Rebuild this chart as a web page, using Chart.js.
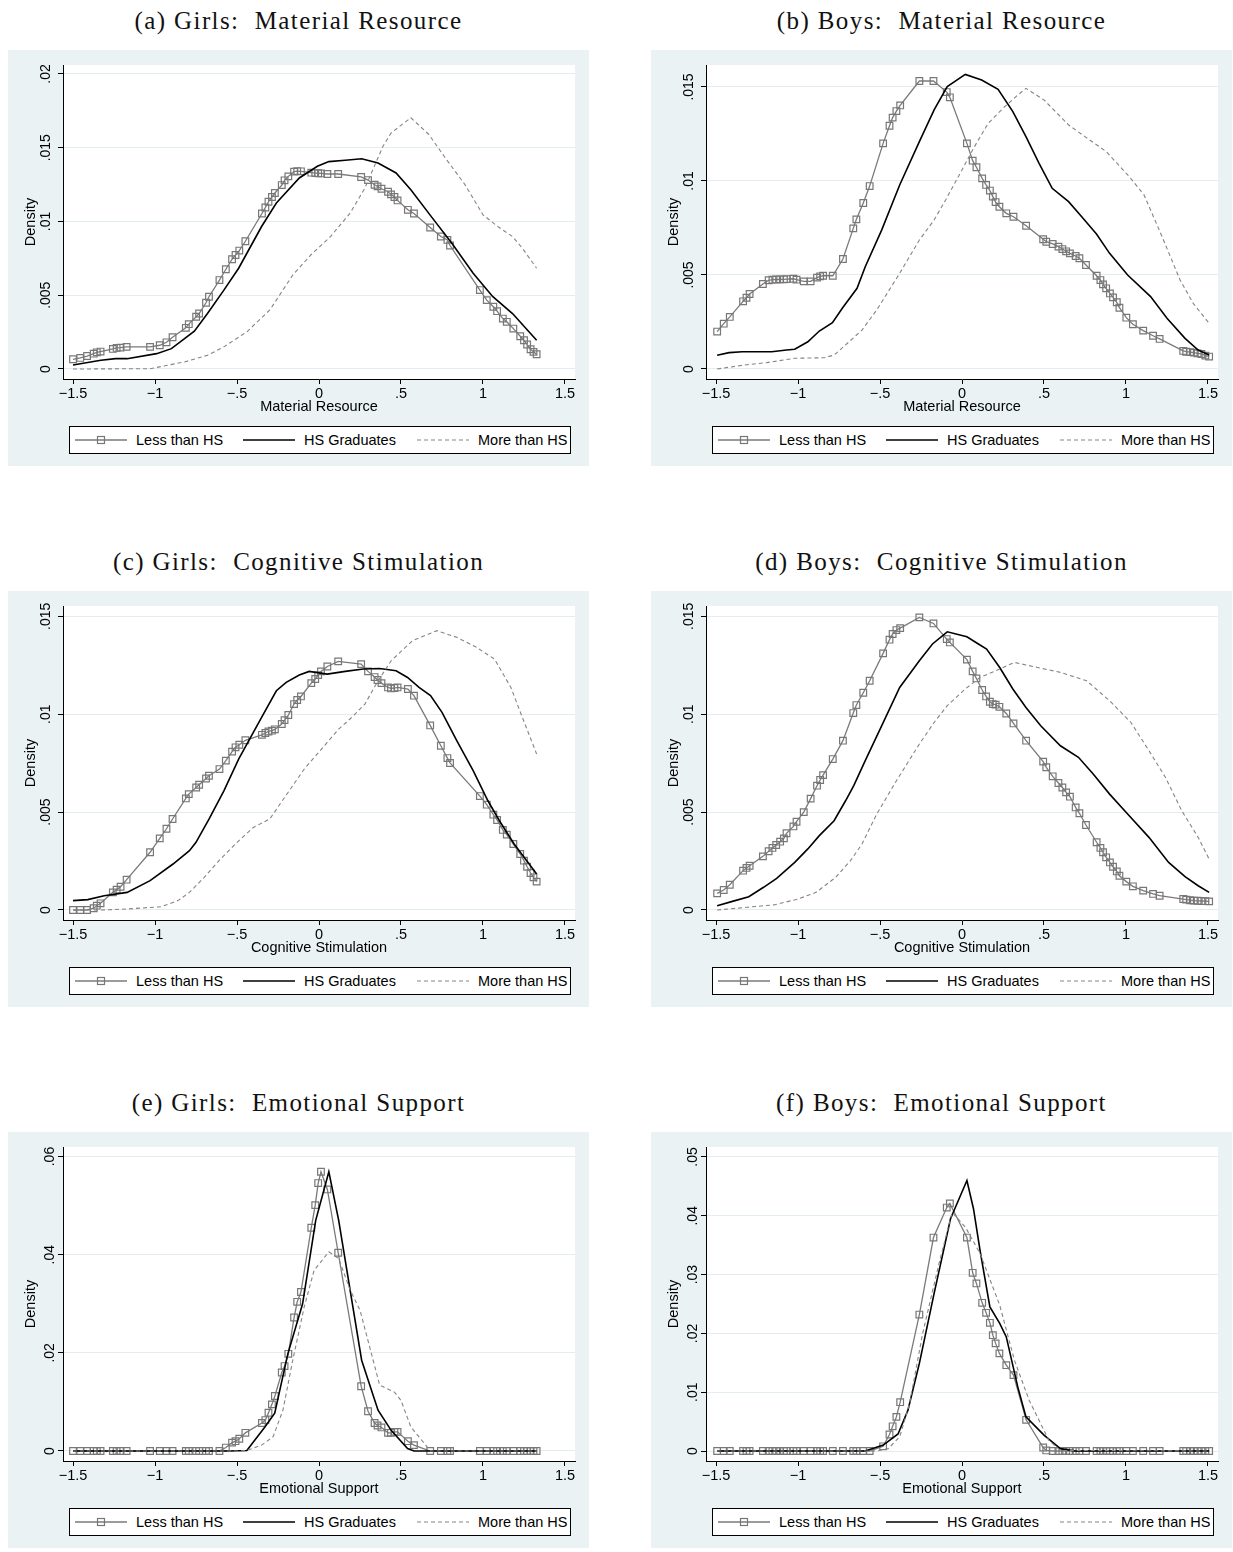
<!DOCTYPE html>
<html lang="en">
<head>
<meta charset="UTF-8">
<title>Kernel densities by parental education</title>
<script src="https://cdn.jsdelivr.net/npm/chart.js"></script>
<style>
  body { margin: 0; background: #fff; width: 1233px; height: 1552px; position: relative; overflow: hidden; }
  .title { position: absolute; width: 581px; text-align: center; font-family: "Liberation Serif", serif; font-size: 25px; line-height: 30px; color: #111; letter-spacing: 1.4px; white-space: pre; }
  .panel { position: absolute; width: 581px; height: 416px; background: #eaf2f3; }
  .panel canvas { position: absolute; left: 0; top: 0; }
  .legend { position: absolute; left: 61px; top: 376px; width: 500px; height: 26px; background: #fff; border: 1px solid #000;
            font-family: "Liberation Sans", Arial, sans-serif; font-size: 14.5px; color: #000; }
  .legend .item { position: absolute; top: 0; height: 26px; display: flex; align-items: center; white-space: nowrap; }
  .legend svg { margin-right: 9px; }
</style>
</head>
<body>
<script>
// evaluation points of the "Less than HS" estimates
const girlsGrid = [-1.5, -1.456, -1.414, -1.374, -1.355, -1.332, -1.257, -1.234, -1.21, -1.173, -1.03, -0.971, -0.93, -0.893, -0.812, -0.794, -0.749, -0.731, -0.689, -0.671, -0.607, -0.568, -0.53, -0.509, -0.486, -0.449, -0.348, -0.327, -0.308, -0.287, -0.269, -0.227, -0.21, -0.187, -0.152, -0.133, -0.11, -0.047, -0.023, -0.005, 0.012, 0.051, 0.117, 0.257, 0.299, 0.339, 0.357, 0.381, 0.421, 0.439, 0.46, 0.479, 0.542, 0.579, 0.678, 0.743, 0.783, 0.799, 0.981, 1.023, 1.063, 1.086, 1.121, 1.145, 1.185, 1.227, 1.25, 1.269, 1.29, 1.308, 1.327];
const boysGrid = [-1.493, -1.453, -1.416, -1.335, -1.314, -1.295, -1.214, -1.179, -1.156, -1.133, -1.109, -1.086, -1.07, -1.028, -1.009, -0.965, -0.923, -0.884, -0.865, -0.847, -0.788, -0.726, -0.663, -0.644, -0.602, -0.563, -0.481, -0.442, -0.423, -0.4, -0.377, -0.26, -0.174, -0.093, -0.074, 0.03, 0.065, 0.088, 0.123, 0.147, 0.17, 0.188, 0.205, 0.228, 0.27, 0.314, 0.391, 0.495, 0.514, 0.553, 0.588, 0.612, 0.635, 0.658, 0.693, 0.716, 0.756, 0.821, 0.844, 0.86, 0.879, 0.902, 0.921, 0.944, 0.96, 1.002, 1.042, 1.105, 1.165, 1.205, 1.349, 1.367, 1.391, 1.414, 1.437, 1.46, 1.484, 1.507];

// (a) girls, material resource
const girlsMatLess = [0.00066, 0.00075, 0.00088, 0.00104, 0.00113, 0.00118, 0.00136, 0.00143, 0.00145, 0.0015, 0.0015, 0.00161, 0.00181, 0.00215, 0.00279, 0.00304, 0.00354, 0.00376, 0.00449, 0.0049, 0.00603, 0.00676, 0.00744, 0.00773, 0.00803, 0.00866, 0.01054, 0.01095, 0.01134, 0.01166, 0.01193, 0.01247, 0.01279, 0.01306, 0.01338, 0.01342, 0.0134, 0.01331, 0.01328, 0.01327, 0.01326, 0.01322, 0.01322, 0.01302, 0.01281, 0.01249, 0.01238, 0.01222, 0.01202, 0.01184, 0.01166, 0.01143, 0.01079, 0.01054, 0.00959, 0.00898, 0.00875, 0.00837, 0.00535, 0.00467, 0.00422, 0.00392, 0.00342, 0.0032, 0.00274, 0.00222, 0.00195, 0.00166, 0.00134, 0.00116, 0.001];
const girlsMatGradX = [-1.5, -1.33, -1.24, -1.17, -0.99, -0.9, -0.76, -0.68, -0.58, -0.49, -0.35, -0.26, -0.12, -0.01, 0.06, 0.16, 0.26, 0.36, 0.47, 0.56, 0.7, 0.81, 0.94, 1.06, 1.18, 1.327];
const girlsMatGradY = [0.00027, 0.00059, 0.0007, 0.0007, 0.00104, 0.00138, 0.00256, 0.00376, 0.00535, 0.00683, 0.00966, 0.01125, 0.01295, 0.01374, 0.01406, 0.01415, 0.01425, 0.01397, 0.01329, 0.01215, 0.01011, 0.00853, 0.00649, 0.0049, 0.00376, 0.00195];
const girlsMatMoreX = [-1.5, -1.03, -0.82, -0.68, -0.58, -0.44, -0.3, -0.16, -0.05, 0.07, 0.19, 0.28, 0.39, 0.44, 0.56, 0.67, 0.77, 0.89, 1.0, 1.09, 1.18, 1.24, 1.327];
const girlsMatMoreY = [0, 0.00002, 0.00048, 0.00093, 0.0015, 0.00252, 0.004, 0.00637, 0.00773, 0.00898, 0.01057, 0.01227, 0.0151, 0.01601, 0.01703, 0.0159, 0.01431, 0.0125, 0.01045, 0.00966, 0.00898, 0.00819, 0.00683];

// (b) boys, material resource
const boysMatLess = [0.00199, 0.00241, 0.00277, 0.0036, 0.00379, 0.00399, 0.00452, 0.00472, 0.00475, 0.00476, 0.00477, 0.00477, 0.00478, 0.0048, 0.00475, 0.00466, 0.00466, 0.00486, 0.00493, 0.00496, 0.00496, 0.00585, 0.00748, 0.00796, 0.00883, 0.00973, 0.012, 0.01294, 0.01337, 0.01372, 0.01402, 0.01532, 0.01532, 0.01473, 0.01445, 0.012, 0.01108, 0.01073, 0.01014, 0.00979, 0.00949, 0.00917, 0.00888, 0.00863, 0.00828, 0.0081, 0.00762, 0.0069, 0.00677, 0.00665, 0.00651, 0.00638, 0.00626, 0.00615, 0.00601, 0.00589, 0.00553, 0.00496, 0.00473, 0.0045, 0.00429, 0.00402, 0.00381, 0.00355, 0.00326, 0.00273, 0.00238, 0.00204, 0.00177, 0.0016, 0.00096, 0.00092, 0.0009, 0.00087, 0.00083, 0.0008, 0.00071, 0.00066];
const boysMatGradX = [-1.493, -1.42, -1.34, -1.16, -1.07, -1.02, -0.94, -0.87, -0.79, -0.73, -0.64, -0.59, -0.49, -0.38, -0.26, -0.17, -0.09, 0.02, 0.12, 0.22, 0.31, 0.39, 0.47, 0.55, 0.65, 0.73, 0.82, 0.9, 1.01, 1.15, 1.25, 1.36, 1.44, 1.507];
const boysMatGradY = [0.00073, 0.00087, 0.00092, 0.00092, 0.00101, 0.00105, 0.00145, 0.00202, 0.00246, 0.00323, 0.00429, 0.00544, 0.00739, 0.00979, 0.01209, 0.01378, 0.01502, 0.01567, 0.01537, 0.01488, 0.01369, 0.01236, 0.01094, 0.00961, 0.0089, 0.0081, 0.00718, 0.00615, 0.005, 0.00385, 0.0027, 0.00163, 0.00101, 0.00074];
const boysMatMoreX = [-1.493, -1.33, -1.19, -1.02, -0.84, -0.78, -0.71, -0.61, -0.52, -0.38, -0.26, -0.17, -0.1, 0.0, 0.07, 0.16, 0.25, 0.34, 0.39, 0.5, 0.65, 0.75, 0.88, 1.02, 1.11, 1.22, 1.33, 1.41, 1.507];
const boysMatMoreY = [0, 0.00021, 0.00034, 0.00057, 0.0006, 0.00074, 0.00128, 0.00207, 0.00314, 0.00509, 0.00686, 0.00793, 0.00899, 0.01059, 0.01174, 0.01307, 0.01387, 0.01457, 0.01493, 0.01431, 0.01298, 0.01236, 0.01156, 0.01023, 0.00926, 0.00704, 0.00473, 0.00349, 0.00243];

// (c) girls, cognitive stimulation
const girlsCogLess = [0, 0, 0, 0.00009, 0.00022, 0.00034, 0.0009, 0.00104, 0.00119, 0.00155, 0.00295, 0.00366, 0.00415, 0.00465, 0.0057, 0.00592, 0.00626, 0.0064, 0.00672, 0.00686, 0.0072, 0.00763, 0.00809, 0.00831, 0.00844, 0.00867, 0.00895, 0.00904, 0.00912, 0.00916, 0.00923, 0.0095, 0.0097, 0.00996, 0.01052, 0.01073, 0.01091, 0.01159, 0.0118, 0.012, 0.01219, 0.01244, 0.0127, 0.01256, 0.01219, 0.0119, 0.01175, 0.01159, 0.01137, 0.01132, 0.01134, 0.01137, 0.01129, 0.01095, 0.00943, 0.00839, 0.00776, 0.00751, 0.00582, 0.00538, 0.00487, 0.0046, 0.00409, 0.00385, 0.00337, 0.00286, 0.00252, 0.00221, 0.00189, 0.00167, 0.00145];
const girlsCogGradX = [-1.5, -1.41, -1.31, -1.17, -1.03, -0.89, -0.79, -0.75, -0.67, -0.58, -0.49, -0.35, -0.26, -0.2, -0.12, -0.06, 0.05, 0.16, 0.27, 0.37, 0.47, 0.54, 0.61, 0.68, 0.75, 0.84, 0.94, 1.03, 1.1, 1.19, 1.327];
const girlsCogGradY = [0.00048, 0.00053, 0.00073, 0.0009, 0.0015, 0.00235, 0.00303, 0.00346, 0.00465, 0.00609, 0.00771, 0.00984, 0.0112, 0.01163, 0.012, 0.01219, 0.01205, 0.01219, 0.01231, 0.01234, 0.01222, 0.01188, 0.01137, 0.01095, 0.0101, 0.00865, 0.00712, 0.00558, 0.00456, 0.00337, 0.00184];
const girlsCogMoreX = [-1.5, -1.33, -1.17, -0.96, -0.86, -0.79, -0.7, -0.61, -0.51, -0.4, -0.3, -0.21, -0.09, 0.05, 0.12, 0.2, 0.28, 0.36, 0.44, 0.57, 0.72, 0.84, 0.96, 1.07, 1.17, 1.24, 1.327];
const girlsCogMoreY = [0, 0, 0.00005, 0.00017, 0.00048, 0.0009, 0.00167, 0.00252, 0.00337, 0.00422, 0.00465, 0.00575, 0.0072, 0.00856, 0.00924, 0.00984, 0.01052, 0.01171, 0.01273, 0.01376, 0.01427, 0.01393, 0.01342, 0.01282, 0.01137, 0.00984, 0.00797];

// (d) boys, cognitive stimulation
const boysCogLess = [0.00085, 0.00102, 0.00129, 0.00201, 0.00215, 0.00226, 0.00274, 0.003, 0.00317, 0.00332, 0.00349, 0.00366, 0.00392, 0.00427, 0.00451, 0.005, 0.00569, 0.00635, 0.00664, 0.00689, 0.00771, 0.00865, 0.01006, 0.01047, 0.0111, 0.01171, 0.01311, 0.01381, 0.0141, 0.0143, 0.0144, 0.01495, 0.01464, 0.01384, 0.01367, 0.01279, 0.01219, 0.01183, 0.01124, 0.01091, 0.01064, 0.01052, 0.01049, 0.01038, 0.01004, 0.00953, 0.00865, 0.00758, 0.00729, 0.00683, 0.00649, 0.00626, 0.00601, 0.00579, 0.00524, 0.00494, 0.00434, 0.00346, 0.00317, 0.00295, 0.00269, 0.00243, 0.00221, 0.00197, 0.00175, 0.00145, 0.00121, 0.00099, 0.00082, 0.00073, 0.00056, 0.00053, 0.0005, 0.00048, 0.00047, 0.00046, 0.00045, 0.00044];
const boysCogGradX = [-1.493, -1.4, -1.3, -1.21, -1.13, -1.02, -0.94, -0.87, -0.78, -0.71, -0.66, -0.59, -0.49, -0.38, -0.26, -0.18, -0.09, 0.03, 0.1, 0.15, 0.23, 0.31, 0.39, 0.48, 0.6, 0.71, 0.8, 0.9, 1.01, 1.14, 1.26, 1.36, 1.44, 1.507];
const boysCogGradY = [0.00022, 0.00044, 0.00068, 0.00116, 0.00162, 0.00243, 0.00312, 0.0038, 0.00456, 0.00558, 0.00635, 0.00763, 0.00941, 0.01137, 0.01273, 0.01359, 0.01421, 0.01396, 0.01359, 0.01333, 0.01239, 0.01129, 0.01035, 0.00941, 0.00839, 0.0078, 0.00695, 0.00592, 0.0049, 0.00371, 0.00243, 0.0017, 0.00124, 0.0009];
const boysCogMoreX = [-1.493, -1.31, -1.14, -1.0, -0.89, -0.77, -0.68, -0.61, -0.52, -0.4, -0.26, -0.17, -0.09, 0.02, 0.11, 0.23, 0.32, 0.46, 0.6, 0.76, 0.9, 1.03, 1.14, 1.24, 1.34, 1.44, 1.507];
const boysCogMoreY = [0, 0.00014, 0.00027, 0.00056, 0.0009, 0.00167, 0.00252, 0.00337, 0.0049, 0.0066, 0.00848, 0.00958, 0.01044, 0.01129, 0.01188, 0.01231, 0.01265, 0.01239, 0.01214, 0.01171, 0.01069, 0.00958, 0.00814, 0.00678, 0.00507, 0.00371, 0.0026];

// (e) girls, emotional support
const girlsEmoLess = [0, 0, 0, 0, 0, 0, 0, 0, 0, 0, 0, 0, 0, 0, 0, 0, 0, 0, 0, 0, 0, 0.0007, 0.0017, 0.002, 0.0025, 0.0037, 0.0057, 0.0063, 0.0078, 0.0095, 0.0112, 0.016, 0.0173, 0.0198, 0.0272, 0.0304, 0.0324, 0.0455, 0.0501, 0.0546, 0.0569, 0.0533, 0.0404, 0.0132, 0.0081, 0.0057, 0.0052, 0.0048, 0.0037, 0.0037, 0.0039, 0.0039, 0.002, 0.0012, 0, 0, 0, 0, 0, 0, 0, 0, 0, 0, 0, 0, 0, 0, 0, 0, 0];
const girlsEmoGradX = [-1.5, -0.54, -0.44, -0.33, -0.27, -0.19, -0.1, -0.02, 0.06, 0.12, 0.26, 0.36, 0.44, 0.54, 0.58, 1.327];
const girlsEmoGradY = [0, 0, 0.0001, 0.0049, 0.0077, 0.0198, 0.03, 0.047, 0.0569, 0.047, 0.0185, 0.0083, 0.0042, 0.0005, 0, 0];
const girlsEmoMoreX = [-1.5, -0.49, -0.44, -0.35, -0.28, -0.22, -0.16, -0.09, -0.03, 0.06, 0.12, 0.19, 0.25, 0.32, 0.37, 0.46, 0.5, 0.56, 0.68, 1.327];
const girlsEmoMoreY = [0, 0, 0.0001, 0.0012, 0.0029, 0.0083, 0.0185, 0.0294, 0.0368, 0.0406, 0.0392, 0.0328, 0.0287, 0.0198, 0.0134, 0.012, 0.0103, 0.0049, 0, 0];

// (f) boys, emotional support
const boysEmoLess = [0, 0, 0, 0, 0, 0, 0, 0, 0, 0, 0, 0, 0, 0, 0, 0, 0, 0, 0, 0, 0, 0, 0, 0, 0, 0, 0.0008, 0.0028, 0.0042, 0.0058, 0.0083, 0.0232, 0.0363, 0.0414, 0.0421, 0.0363, 0.0303, 0.0285, 0.0252, 0.0235, 0.0218, 0.0197, 0.0183, 0.0166, 0.0146, 0.0129, 0.0053, 0.0006, 0.0001, 0, 0, 0, 0, 0, 0, 0, 0, 0, 0, 0, 0, 0, 0, 0, 0, 0, 0, 0, 0, 0, 0, 0, 0, 0, 0, 0, 0, 0];
const boysEmoGradX = [-1.493, -0.59, -0.48, -0.39, -0.33, -0.26, -0.17, -0.07, 0.03, 0.07, 0.11, 0.17, 0.23, 0.27, 0.34, 0.39, 0.5, 0.6, 0.69, 1.507];
const boysEmoGradY = [0, 0, 0.001, 0.0029, 0.0069, 0.0149, 0.0268, 0.0395, 0.046, 0.0412, 0.0341, 0.0245, 0.0217, 0.0194, 0.0109, 0.0058, 0.0027, 0.0004, 0, 0];
const boysEmoMoreX = [-1.493, -0.52, -0.45, -0.38, -0.32, -0.24, -0.14, -0.06, 0.02, 0.11, 0.23, 0.32, 0.41, 0.53, 0.6, 1.507];
const boysEmoMoreY = [0, 0, 0.0004, 0.0024, 0.008, 0.02, 0.0319, 0.0406, 0.0381, 0.0336, 0.0248, 0.0154, 0.0086, 0.0018, 0.0001, 0];

const seriesNames = ['Less than HS', 'HS Graduates', 'More than HS'];
const xTicks = [-1.5, -1, -0.5, 0, 0.5, 1, 1.5];
const yTicksMat = [0, 0.005, 0.01, 0.015, 0.02];
const yTicksCog = [0, 0.005, 0.01, 0.015];
const yTicksEmoGirls = [0, 0.02, 0.04, 0.06];
const yTicksEmoBoys = [0, 0.01, 0.02, 0.03, 0.04, 0.05];

const panels = [
  { title: '(a) Girls:  Material Resource', xTitle: 'Material Resource', left: 8, top: 50,
    yMin: -0.000678, yMax: 0.02061, yTicks: yTicksMat,
    less: [girlsGrid, girlsMatLess], grad: [girlsMatGradX, girlsMatGradY], more: [girlsMatMoreX, girlsMatMoreY] },
  { title: '(b) Boys:  Material Resource', xTitle: 'Material Resource', left: 651, top: 50,
    yMin: -0.000532, yMax: 0.01617, yTicks: yTicksCog,
    less: [boysGrid, boysMatLess], grad: [boysMatGradX, boysMatGradY], more: [boysMatMoreX, boysMatMoreY] },
  { title: '(c) Girls:  Cognitive Stimulation', xTitle: 'Cognitive Stimulation', left: 8, top: 591,
    yMin: -0.000511, yMax: 0.01553, yTicks: yTicksCog,
    less: [girlsGrid, girlsCogLess], grad: [girlsCogGradX, girlsCogGradY], more: [girlsCogMoreX, girlsCogMoreY] },
  { title: '(d) Boys:  Cognitive Stimulation', xTitle: 'Cognitive Stimulation', left: 651, top: 591,
    yMin: -0.000511, yMax: 0.01553, yTicks: yTicksCog,
    less: [boysGrid, boysCogLess], grad: [boysCogGradX, boysCogGradY], more: [boysCogMoreX, boysCogMoreY] },
  { title: '(e) Girls:  Emotional Support', xTitle: 'Emotional Support', left: 8, top: 1132,
    yMin: -0.00204, yMax: 0.06195, yTicks: yTicksEmoGirls,
    less: [girlsGrid, girlsEmoLess], grad: [girlsEmoGradX, girlsEmoGradY], more: [girlsEmoMoreX, girlsEmoMoreY] },
  { title: '(f) Boys:  Emotional Support', xTitle: 'Emotional Support', left: 651, top: 1132,
    yMin: -0.0017, yMax: 0.0517, yTicks: yTicksEmoBoys,
    less: [boysGrid, boysEmoLess], grad: [boysEmoGradX, boysEmoGradY], more: [boysEmoMoreX, boysEmoMoreY] }
];

const SANS = '"Liberation Sans", Arial, sans-serif';
Chart.defaults.font.family = SANS;
Chart.defaults.color = '#000';

// Stata-style numbers: no leading zero, real minus sign
const fmt = v => {
  if (v === 0) return '0';
  return (v < 0 ? '\u2212' : '') + String(Math.abs(v)).replace(/^0\./, '.');
};

const pts = (xs, ys) => xs.map((x, i) => ({ x, y: ys[i] }));

// white plot region inside the tinted graph region
const plotBg = {
  id: 'plotBg',
  beforeDraw(chart) {
    const { ctx, chartArea: a } = chart;
    ctx.save();
    ctx.fillStyle = '#fff';
    ctx.fillRect(a.left, a.top, a.right - a.left, a.bottom - a.top);
    ctx.restore();
  }
};

function buildLegend(el, chart) {
  const offsets = [5, 173, 347];
  chart.data.datasets.forEach((ds, i) => {
    const item = document.createElement('div');
    item.className = 'item';
    item.style.left = offsets[i] + 'px';
    const dash = ds.borderDash ? ` stroke-dasharray="${ds.borderDash.join(',')}"` : '';
    const mark = ds.pointRadius > 0
      ? `<rect x="22.5" y="3.5" width="7" height="7" fill="none" stroke="${ds.pointBorderColor}" stroke-width="1.2"/>` : '';
    item.innerHTML = `<svg width="52" height="14"><line x1="0" y1="7" x2="52" y2="7" stroke="${ds.borderColor}" stroke-width="${ds.borderWidth}"${dash}/>${mark}</svg><span>${ds.label}</span>`;
    el.appendChild(item);
  });
}

panels.forEach(p => {
  const title = document.createElement('div');
  title.className = 'title';
  title.style.left = p.left + 'px';
  title.style.top = (p.top - 44) + 'px';
  title.textContent = p.title;
  document.body.appendChild(title);

  const box = document.createElement('div');
  box.className = 'panel';
  box.style.left = p.left + 'px';
  box.style.top = p.top + 'px';
  const canvas = document.createElement('canvas');
  canvas.width = 581;
  canvas.height = 372;
  box.appendChild(canvas);
  const legend = document.createElement('div');
  legend.className = 'legend';
  box.appendChild(legend);
  document.body.appendChild(box);

  const chart = new Chart(canvas, {
    type: 'scatter',
    data: {
      datasets: [
        { label: seriesNames[0], data: pts(...p.less), showLine: true, tension: 0,
          borderColor: '#7a7a7a', borderWidth: 1.3, pointStyle: 'rect', pointRadius: 4.7,
          pointBorderColor: '#777777', pointBackgroundColor: 'rgba(255,255,255,0)', pointBorderWidth: 1.2, order: 3 },
        { label: seriesNames[1], data: pts(...p.grad), showLine: true, tension: 0,
          borderColor: '#000', borderWidth: 1.6, pointRadius: 0, order: 2 },
        { label: seriesNames[2], data: pts(...p.more), showLine: true, tension: 0,
          borderColor: '#858585', borderWidth: 1.1, borderDash: [4, 3], pointRadius: 0, order: 1 }
      ]
    },
    options: {
      responsive: false,
      animation: false,
      events: [],
      devicePixelRatio: 1,
      layout: { padding: { top: 15, right: 14, bottom: 0, left: 0 } },
      plugins: { legend: { display: false }, tooltip: { enabled: false } },
      scales: {
        x: {
          type: 'linear', min: -1.561, max: 1.561,
          afterBuildTicks: s => { s.ticks = xTicks.map(v => ({ value: v })); },
          afterFit: s => { s.height = 43; },
          grid: { drawOnChartArea: false, tickLength: 5, tickColor: '#000', tickWidth: 1 },
          border: { color: '#000', width: 1 },
          ticks: { padding: 1, autoSkip: false, maxRotation: 0, font: { size: 14.5 }, callback: v => fmt(v) },
          title: { display: true, text: p.xTitle, font: { size: 14.5 }, padding: { top: 0, bottom: 6 } }
        },
        y: {
          type: 'linear', min: p.yMin, max: p.yMax,
          afterBuildTicks: s => { s.ticks = p.yTicks.map(v => ({ value: v })); },
          afterFit: s => { s.width = 55; },
          grid: { color: '#e3ecef', lineWidth: 1, tickLength: 5, tickColor: '#000', tickWidth: 1 },
          border: { color: '#000', width: 1 },
          ticks: { padding: -2, autoSkip: false, minRotation: 90, maxRotation: 90, crossAlign: 'center',
                   font: { size: 14 }, callback: v => fmt(v) },
          title: { display: true, text: 'Density', font: { size: 14.5 }, padding: { top: 14 } }
        }
      }
    },
    plugins: [plotBg]
  });
  buildLegend(legend, chart);
});
</script>
</body>
</html>
